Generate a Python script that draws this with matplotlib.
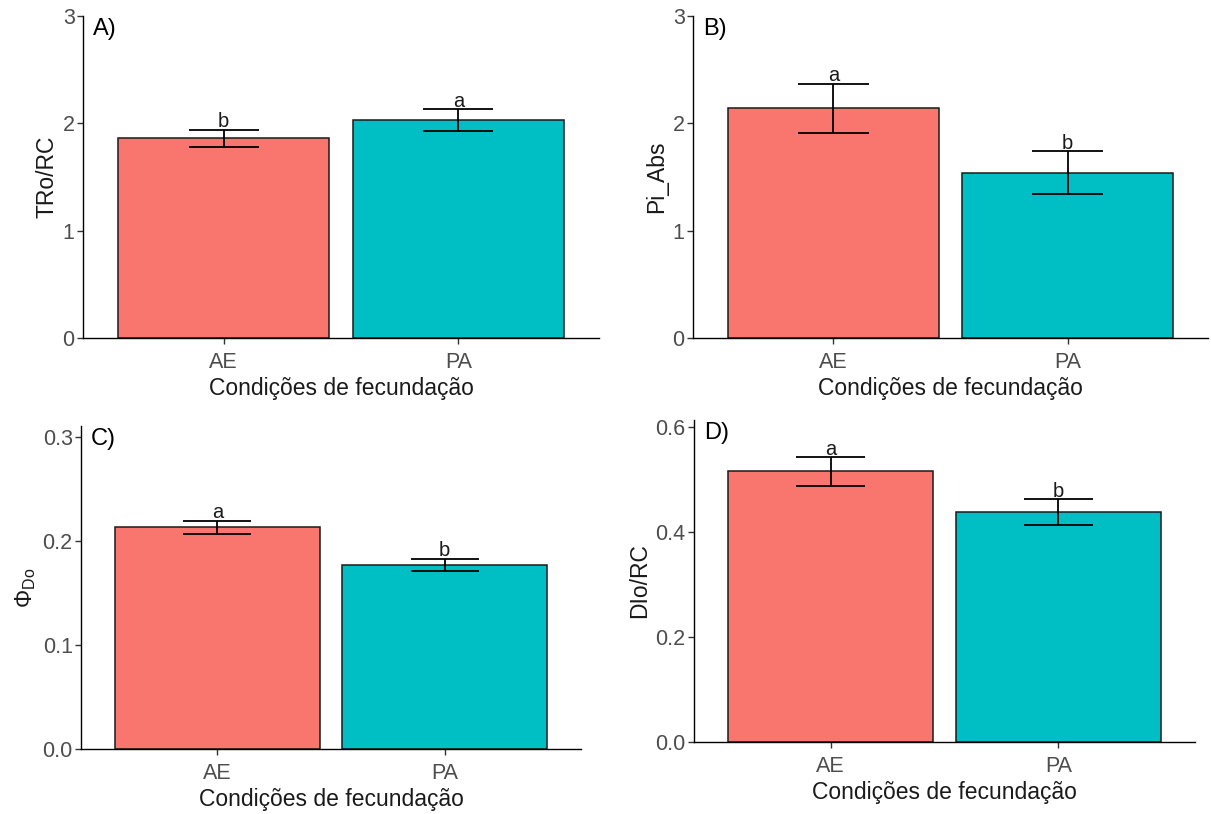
import matplotlib
matplotlib.use("Agg")
import matplotlib.pyplot as plt

plt.rcParams['font.family'] = ['Liberation Sans', 'DejaVu Sans']
plt.rcParams['mathtext.fontset'] = 'custom'
plt.rcParams['mathtext.rm'] = 'Liberation Sans'
plt.rcParams['mathtext.it'] = 'Liberation Sans:italic'

categories = ["AE", "PA"]
colors = ["#F8766D", "#00BFC4"]
xlabel = "Condições de fecundação"

panel_labels = ["A)", "B)", "C)", "D)"]
ylabels = ["TRo/RC", "Pi_Abs", r"$\Phi_{\mathrm{Do}}$", "DIo/RC"]

tro_mean = [1.86, 2.03]
tro_se = [0.08, 0.10]
tro_letters = ["b", "a"]

piabs_mean = [2.14, 1.54]
piabs_se = [0.23, 0.20]
piabs_letters = ["a", "b"]

phido_mean = [0.213, 0.177]
phido_se = [0.0065, 0.006]
phido_letters = ["a", "b"]

dio_mean = [0.515, 0.438]
dio_se = [0.027, 0.024]
dio_letters = ["a", "b"]

yticks_list = [[0, 1, 2, 3], [0, 1, 2, 3], [0.0, 0.1, 0.2, 0.3], [0.0, 0.2, 0.4, 0.6]]
yticklabels_list = [["0", "1", "2", "3"], ["0", "1", "2", "3"],
                    ["0.0", "0.1", "0.2", "0.3"], ["0.0", "0.2", "0.4", "0.6"]]
ylims = [(0, 3.0), (0, 3.0), (0, 0.3106), (0, 0.613)]

means = [tro_mean, piabs_mean, phido_mean, dio_mean]
ses = [tro_se, piabs_se, phido_se, dio_se]
letters = [tro_letters, piabs_letters, phido_letters, dio_letters]

W, H = 1211, 814
boxes = [  # left, right, bottom, top in pixels (top-origin y)
    (83, 599, 338, 16),
    (693, 1208, 338, 16),
    (81, 581, 749, 426),
    (694, 1195, 742, 420),
]

fig = plt.figure(figsize=(W / 100, H / 100), dpi=100)
tick_color = "#4D4D4D"
fs = 15.5

for i, (l, r, b, t) in enumerate(boxes):
    ax = fig.add_axes([l / W, (H - b) / H, (r - l) / W, (b - t) / H])
    x = [1, 2]
    ax.bar(x, means[i], width=0.9, color=colors, edgecolor="#1a1a1a", linewidth=1.1, zorder=2)
    lo = [m - s for m, s in zip(means[i], ses[i])]
    hi = [m + s for m, s in zip(means[i], ses[i])]
    ax.vlines(x, lo, hi, color="black", linewidth=1.3, zorder=3)
    ax.hlines(lo, [xx - 0.15 for xx in x], [xx + 0.15 for xx in x], color="black", linewidth=1.3, zorder=3)
    ax.hlines(hi, [xx - 0.15 for xx in x], [xx + 0.15 for xx in x], color="black", linewidth=1.3, zorder=3)
    for xx, h, lt in zip(x, hi, letters[i]):
        ax.annotate(lt, (xx, h), xytext=(0, -1), textcoords="offset points",
                    ha="center", va="bottom", fontsize=14.5, color="#1a1a1a")
    ax.set_xlim(0.4, 2.6)
    ax.set_ylim(*ylims[i])
    ax.set_xticks(x)
    ax.set_xticklabels(categories)
    ax.set_yticks(yticks_list[i])
    ax.set_yticklabels(yticklabels_list[i])
    for s in ["top", "right"]:
        ax.spines[s].set_visible(False)
    for s in ["left", "bottom"]:
        ax.spines[s].set_linewidth(1.0)
        ax.spines[s].set_color("black")
    ax.tick_params(axis="y", direction="out", length=4, width=1.0, color="#333333",
                   labelsize=fs, labelcolor=tick_color, pad=2)
    ax.tick_params(axis="x", direction="out", length=4, width=1.0, color="#333333",
                   labelsize=fs, labelcolor=tick_color, pad=6)
    ax.set_xlabel(xlabel, fontsize=16.5, labelpad=3, color="#1a1a1a")
    ax.set_ylabel(ylabels[i], fontsize=16.5, labelpad=3, color="#1a1a1a")
    ax.text(0.02, 0.995, panel_labels[i], transform=ax.transAxes, ha="left", va="top",
            fontsize=17, color="black")

fig.savefig("out.png", dpi=100)
